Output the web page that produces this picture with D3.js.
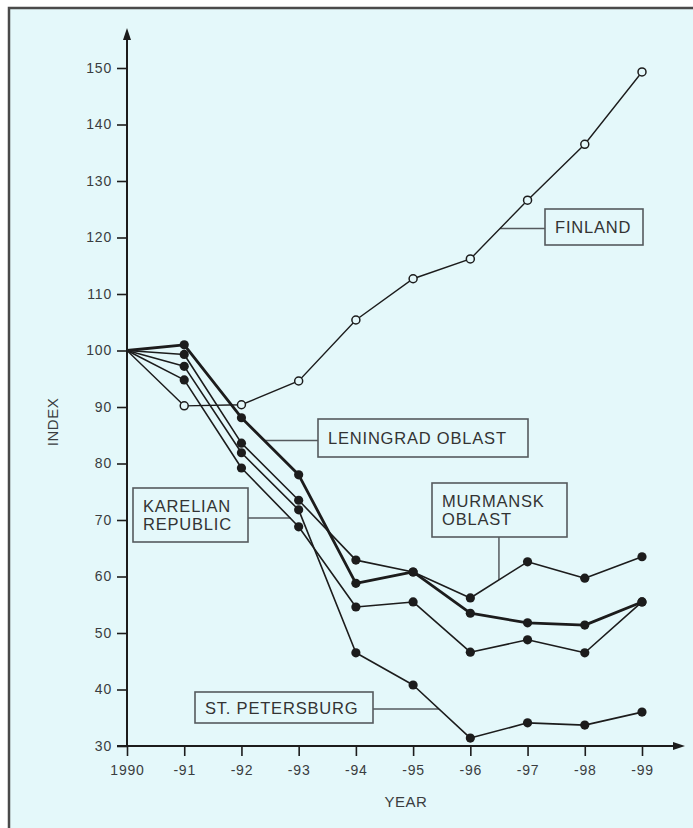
<!DOCTYPE html>
<html><head><meta charset="utf-8">
<script src="https://cdn.jsdelivr.net/npm/d3@7"></script>
<style>
html,body{margin:0;padding:0;background:#ffffff;}
svg{display:block;font-family:"Liberation Sans",Arial,Helvetica,sans-serif;}
</style></head>
<body>
<svg id="chart" width="693" height="828"></svg>
<script>
const years = [1990,1991,1992,1993,1994,1995,1996,1997,1998,1999];
const yearLabels = ["1990","-91","-92","-93","-94","-95","-96","-97","-98","-99"];
const indexTicks = [30,40,50,60,70,80,90,100,110,120,130,140,150];

const finland      = [100, 90.2, 90.4, 94.6, 105.4, 112.7, 116.2, 126.6, 136.5, 149.3];
const leningrad    = [100, 101.0, 88.1, 78.0, 58.8, 60.8, 53.5, 51.8, 51.4, 55.5];
const murmansk     = [100, 99.3, 83.6, 73.5, 62.9, 60.8, 56.2, 62.6, 59.7, 63.5];
const stPetersburg = [100, 97.2, 81.9, 71.8, 46.5, 40.8, 31.4, 34.1, 33.7, 36.0];
const karelia      = [100, 94.8, 79.2, 68.8, 54.6, 55.5, 46.6, 48.8, 46.5, 55.5];

const seriesNames = ["FINLAND","LENINGRAD OBLAST","MURMANSK OBLAST","ST. PETERSBURG","KARELIAN REPUBLIC"];

const svg = d3.select("#chart");
const bg = "#e4f8fa", ink = "#1c1c1c", grey = "#555a5e", txt = "#3a3d40";

// frame
svg.append("rect").attr("x",9).attr("y",8).attr("width",700).attr("height",840)
  .attr("fill",bg).attr("stroke","#4a4a4a").attr("stroke-width",2.5);

const x = d3.scaleLinear().domain([1990,1999]).range([127,642]);
const y = d3.scaleLinear().domain([30,150]).range([746,68]);

// axes
const gy = svg.append("g").attr("transform","translate(127,0)")
  .call(d3.axisLeft(y).tickValues(indexTicks).tickSize(10).tickPadding(5).tickFormat(d3.format("d")));
const gx = svg.append("g").attr("transform","translate(0,746)")
  .call(d3.axisBottom(x).tickValues(years).tickSize(10).tickPadding(9).tickFormat((d,i)=>yearLabels[i]));
[gx,gy].forEach(g=>{
  g.select(".domain").remove();
  g.selectAll(".tick line").attr("stroke",ink).attr("stroke-width",1.6);
  g.selectAll(".tick text").attr("fill",txt).style("font-size","14px").style("letter-spacing","0.8px");
});
gx.selectAll(".tick line").attr("y1",-1);

// axis lines with arrows
svg.append("line").attr("x1",127).attr("x2",127).attr("y1",747).attr("y2",36)
  .attr("stroke",ink).attr("stroke-width",2);
svg.append("path").attr("d","M127,28 L123,40 L131,40 Z").attr("fill",ink);
svg.append("line").attr("x1",117).attr("x2",676).attr("y1",746).attr("y2",746)
  .attr("stroke",ink).attr("stroke-width",2);
svg.append("path").attr("d","M685,746 L673,742 L673,750 Z").attr("fill",ink);

// axis titles
svg.append("text").attr("x",406).attr("y",807).attr("text-anchor","middle")
  .attr("fill",txt).style("font-size","15px").style("letter-spacing","0.5px").text("YEAR");
svg.append("text").attr("transform","translate(58,422) rotate(-90)").attr("text-anchor","middle")
  .attr("fill",txt).style("font-size","15px").style("letter-spacing","0.5px").text("INDEX");

// labels with pointers
function label(lines, bx, by, bw, bh, pointer){
  svg.append("path").attr("d",pointer).attr("fill","none").attr("stroke",grey).attr("stroke-width",1.5);
  svg.append("rect").attr("x",bx).attr("y",by).attr("width",bw).attr("height",bh)
    .attr("fill",bg).attr("stroke",grey).attr("stroke-width",1.6);
  const t = svg.append("text").attr("fill","#333").style("font-size","16.5px").style("letter-spacing","0.8px");
  const n = lines.length;
  lines.forEach((s,i)=>{
    t.append("tspan").attr("x",bx+10).attr("y",by+bh/2+6 + (i-(n-1)/2)*18).text(s);
  });
}
const lerp = (arr,i,f)=>arr[i]+(arr[i+1]-arr[i])*f;

label(["FINLAND"],545,209,98,36, `M${x(1996.52)},${y(lerp(finland,6,0.52))} H545`);
label(["LENINGRAD OBLAST"],318,419,210,38, `M${x(1992.4)},${y(lerp(leningrad,2,0.4))} H318`);
label(["KARELIAN","REPUBLIC"],133,488,115,54, `M248,518 H${x(1992.86)}`);
label(["MURMANSK","OBLAST"],432,483,135,54, `M${x(1996.5)},537 V${y(lerp(murmansk,6,0.5))}`);
label(["ST. PETERSBURG"],195,692,178,31, `M373,709 H${x(1995.45)}`);

// lines
const line = d3.line().x((d,i)=>x(years[i])).y(d=>y(d));
const filledSeries = [karelia, stPetersburg, murmansk, leningrad];
filledSeries.forEach(s=>{
  svg.append("path").datum(s).attr("d",line).attr("fill","none").attr("stroke",ink)
    .attr("stroke-width", s===leningrad ? 2.8 : 1.6).attr("stroke-linejoin","round");
});
svg.append("path").datum(finland).attr("d",line).attr("fill","none").attr("stroke",ink).attr("stroke-width",1.4);

filledSeries.forEach(s=>{
  svg.append("g").selectAll("circle").data(s.slice(1)).join("circle")
    .attr("cx",(d,i)=>x(years[i+1])).attr("cy",d=>y(d)).attr("r",4.6).attr("fill",ink);
});
svg.append("g").selectAll("circle").data(finland.slice(1)).join("circle")
  .attr("cx",(d,i)=>x(years[i+1])).attr("cy",d=>y(d)).attr("r",4)
  .attr("fill",bg).attr("stroke",ink).attr("stroke-width",1.5);
</script>
</body></html>
